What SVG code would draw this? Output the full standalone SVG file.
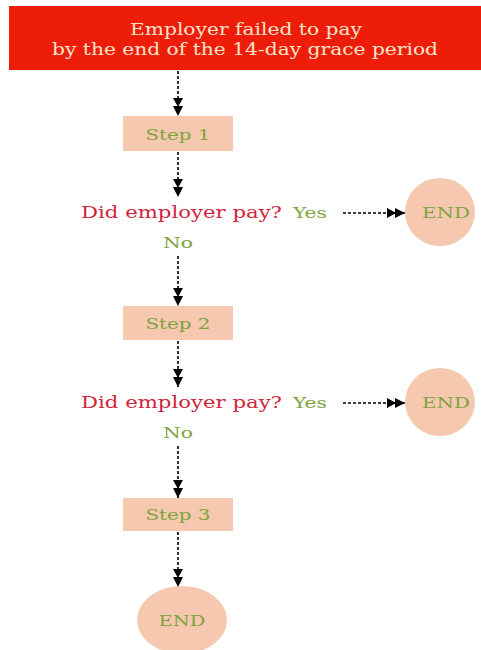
<svg xmlns="http://www.w3.org/2000/svg" width="481" height="650" viewBox="0 0 481 650">
<style>
.hdr{fill:#ee1d0a}
.hdrt{fill:#f7e3c9;font-family:"DejaVu Serif","Liberation Serif",serif;font-size:16px;text-anchor:middle}
.box{fill:#f6c8b0}
.g{fill:#7ea33d;font-family:"DejaVu Serif","Liberation Serif",serif;font-size:15px;text-anchor:middle}
.r{fill:#d1233a;font-family:"DejaVu Serif","Liberation Serif",serif;font-size:16px}
.con{stroke:#000;stroke-width:1.6;stroke-dasharray:3 2;fill:none}
</style>
<defs>
<marker id="dh" viewBox="0 0 18 10" refX="18" refY="5" markerWidth="18" markerHeight="10" markerUnits="userSpaceOnUse" orient="auto">
<path d="M0,0 L9,5 L0,10 Z M8,0 L18,5 L8,10 Z" fill="#000"/>
</marker>
</defs>
<g id="start">
<rect class="hdr" x="9" y="6" width="472" height="64"/>
<text class="hdrt" x="246" y="35" textLength="232" lengthAdjust="spacingAndGlyphs">Employer failed to pay</text>
<text class="hdrt" x="245" y="55" textLength="386" lengthAdjust="spacingAndGlyphs">by the end of the 14-day grace period</text>
</g>
<g id="step1">
<rect class="box" x="123" y="116" width="110" height="35"/>
<text class="g" x="178" y="140" textLength="65" lengthAdjust="spacingAndGlyphs">Step 1</text>
</g>
<g id="decision1">
<text class="r" x="81" y="218" textLength="201" lengthAdjust="spacingAndGlyphs">Did employer pay?</text>
<text class="g" x="310" y="218" textLength="34" lengthAdjust="spacingAndGlyphs">Yes</text>
<text class="g" x="178" y="248" textLength="30" lengthAdjust="spacingAndGlyphs">No</text>
</g>
<g id="end1">
<ellipse class="box" cx="440" cy="212" rx="35" ry="34"/>
<text class="g" x="446" y="218" textLength="48" lengthAdjust="spacingAndGlyphs">END</text>
</g>
<g id="step2">
<rect class="box" x="123" y="306" width="110" height="34"/>
<text class="g" x="178" y="329" textLength="65" lengthAdjust="spacingAndGlyphs">Step 2</text>
</g>
<g id="decision2">
<text class="r" x="81" y="408" textLength="201" lengthAdjust="spacingAndGlyphs">Did employer pay?</text>
<text class="g" x="310" y="408" textLength="34" lengthAdjust="spacingAndGlyphs">Yes</text>
<text class="g" x="178" y="438" textLength="30" lengthAdjust="spacingAndGlyphs">No</text>
</g>
<g id="end2">
<ellipse class="box" cx="440" cy="402" rx="35" ry="34"/>
<text class="g" x="446" y="408" textLength="48" lengthAdjust="spacingAndGlyphs">END</text>
</g>
<g id="step3">
<rect class="box" x="123" y="498" width="110" height="33"/>
<text class="g" x="178" y="520" textLength="65" lengthAdjust="spacingAndGlyphs">Step 3</text>
</g>
<g id="end3">
<ellipse class="box" cx="182" cy="620" rx="45" ry="34"/>
<text class="g" x="182" y="626" textLength="47" lengthAdjust="spacingAndGlyphs">END</text>
</g>
<g id="connectors">
<path class="con" d="M178,71 V116" marker-end="url(#dh)"/>
<path class="con" d="M178,152 V197" marker-end="url(#dh)"/>
<path class="con" d="M178,256 V306" marker-end="url(#dh)"/>
<path class="con" d="M178,341 V387" marker-end="url(#dh)"/>
<path class="con" d="M178,446 V498" marker-end="url(#dh)"/>
<path class="con" d="M178,532 V587" marker-end="url(#dh)"/>
<path class="con" d="M343,213 H405" marker-end="url(#dh)"/>
<path class="con" d="M343,403 H405" marker-end="url(#dh)"/>
</g>
</svg>
